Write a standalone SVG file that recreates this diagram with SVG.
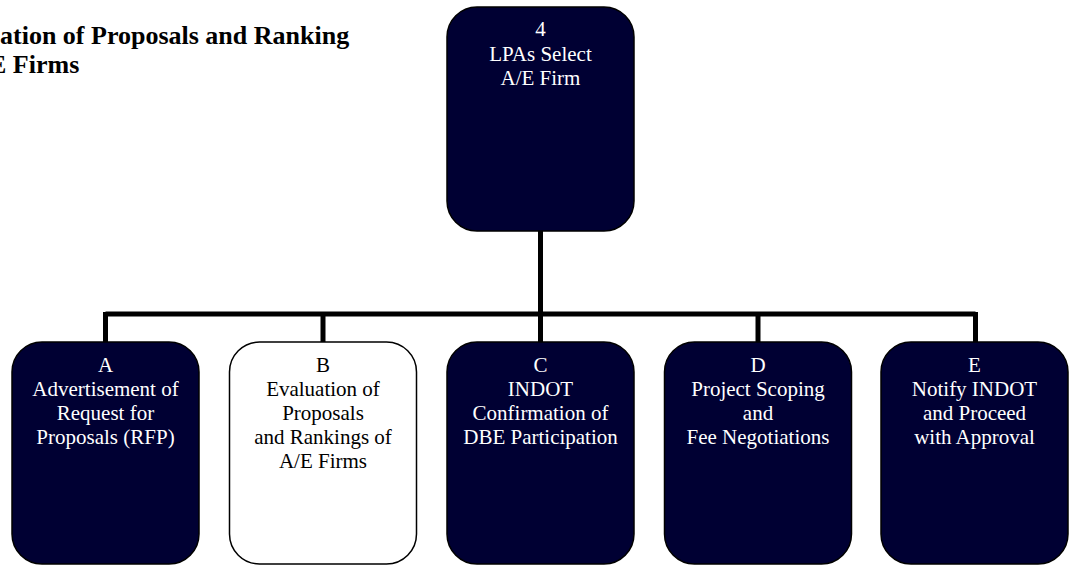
<svg xmlns="http://www.w3.org/2000/svg" width="1069" height="565" viewBox="0 0 1069 565">
<style>
.box{fill:#000033;stroke:#000;stroke-width:1.5}
.wbox{fill:#fff;stroke:#000;stroke-width:1.5}
.t{font-family:"Liberation Serif","Times New Roman",serif;font-size:21px;text-anchor:middle;fill:#fff}
.tb{fill:#000}
.title{font-family:"Liberation Serif","Times New Roman",serif;font-size:26px;font-weight:bold;fill:#000}
.conn{stroke:#000;stroke-width:5;fill:none}
</style>
<rect width="1069" height="565" fill="#fff"/>
<g id="title">
<text class="title" x="0" y="44">ation of Proposals and Ranking</text>
<text class="title" x="-11" y="73">E Firms</text>
</g>
<g id="connectors">
<line class="conn" x1="540.5" y1="231" x2="540.5" y2="314"/>
<line class="conn" x1="105.5" y1="314" x2="975.5" y2="314"/>
<line class="conn" x1="105.5" y1="312" x2="105.5" y2="342"/>
<line class="conn" x1="323" y1="312" x2="323" y2="342"/>
<line class="conn" x1="540.5" y1="312" x2="540.5" y2="342"/>
<line class="conn" x1="758" y1="312" x2="758" y2="342"/>
<line class="conn" x1="975.5" y1="312" x2="975.5" y2="342"/>
</g>
<g id="node-4">
<rect class="box" x="447" y="7" width="187" height="224" rx="30"/>
<text class="t" x="540.5" y="36">4</text>
<text class="t" x="540.5" y="60.5">LPAs Select</text>
<text class="t" x="540.5" y="85">A/E Firm</text>
</g>
<g id="node-A">
<rect class="box" x="12" y="342" width="187" height="222" rx="30"/>
<text class="t" x="105.5" y="372">A</text>
<text class="t" x="105.5" y="396">Advertisement of</text>
<text class="t" x="105.5" y="420">Request for</text>
<text class="t" x="105.5" y="444">Proposals (RFP)</text>
</g>
<g id="node-B">
<rect class="wbox" x="229.5" y="342" width="187" height="222" rx="30"/>
<text class="t tb" x="323" y="372">B</text>
<text class="t tb" x="323" y="396">Evaluation of</text>
<text class="t tb" x="323" y="420">Proposals</text>
<text class="t tb" x="323" y="444">and Rankings of</text>
<text class="t tb" x="323" y="468">A/E Firms</text>
</g>
<g id="node-C">
<rect class="box" x="447" y="342" width="187" height="222" rx="30"/>
<text class="t" x="540.5" y="372">C</text>
<text class="t" x="540.5" y="396">INDOT</text>
<text class="t" x="540.5" y="420">Confirmation of</text>
<text class="t" x="540.5" y="444">DBE Participation</text>
</g>
<g id="node-D">
<rect class="box" x="664.5" y="342" width="187" height="222" rx="30"/>
<text class="t" x="758" y="372">D</text>
<text class="t" x="758" y="396">Project Scoping</text>
<text class="t" x="758" y="420">and</text>
<text class="t" x="758" y="444">Fee Negotiations</text>
</g>
<g id="node-E">
<rect class="box" x="881" y="342" width="187" height="222" rx="30"/>
<text class="t" x="974.5" y="372">E</text>
<text class="t" x="974.5" y="396">Notify INDOT</text>
<text class="t" x="974.5" y="420">and Proceed</text>
<text class="t" x="974.5" y="444">with Approval</text>
</g>
</svg>
